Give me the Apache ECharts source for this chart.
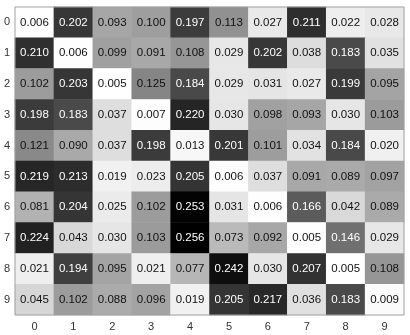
<!DOCTYPE html>
<html><head><meta charset="utf-8">
<script src="https://cdn.jsdelivr.net/npm/echarts@6/dist/echarts.min.js"></script>
<style>html,body{margin:0;padding:0;background:#fff}#c{width:410px;height:335px}</style>
</head><body><div id="c"></div>
<script>
const xLabels = ['0','1','2','3','4','5','6','7','8','9'];
const yLabels = ['0','1','2','3','4','5','6','7','8','9'];
const row0 = [0.006,0.202,0.093,0.100,0.197,0.113,0.027,0.211,0.022,0.028];
const row1 = [0.210,0.006,0.099,0.091,0.108,0.029,0.202,0.038,0.183,0.035];
const row2 = [0.102,0.203,0.005,0.125,0.184,0.029,0.031,0.027,0.199,0.095];
const row3 = [0.198,0.183,0.037,0.007,0.220,0.030,0.098,0.093,0.030,0.103];
const row4 = [0.121,0.090,0.037,0.198,0.013,0.201,0.101,0.034,0.184,0.020];
const row5 = [0.219,0.213,0.019,0.023,0.205,0.006,0.037,0.091,0.089,0.097];
const row6 = [0.081,0.204,0.025,0.102,0.253,0.031,0.006,0.166,0.042,0.089];
const row7 = [0.224,0.043,0.030,0.103,0.256,0.073,0.092,0.005,0.146,0.029];
const row8 = [0.021,0.194,0.095,0.021,0.077,0.242,0.030,0.207,0.005,0.108];
const row9 = [0.045,0.102,0.088,0.096,0.019,0.205,0.217,0.036,0.183,0.009];
const rows = [row0,row1,row2,row3,row4,row5,row6,row7,row8,row9];

const data = [];
rows.forEach((r, yi) => r.forEach((v, xi) => {
  data.push({value: [xi, yi, v], label: {color: v > 0.135 ? '#ffffff' : '#111111', textBorderWidth: 0, textBorderColor: 'transparent'}});
}));
const allVals = rows.flat();
const chart = echarts.init(document.getElementById('c'), null, {renderer: 'canvas'});
chart.setOption({
  animation: false,
  textStyle: {fontFamily: 'Liberation Sans, Arial, sans-serif'},
  grid: {left: 15, top: 7, width: 389, height: 308, show: true, borderColor: '#a0a0a0', borderWidth: 1, backgroundColor: 'transparent', z: 10},
  xAxis: {type: 'category', data: xLabels, axisLine: {show: false}, axisTick: {show: false}, splitLine: {show: false},
    axisLabel: {color: '#333', fontSize: 11, margin: 6}},
  yAxis: {type: 'category', data: yLabels, inverse: true, axisLine: {show: false}, axisTick: {show: false}, splitLine: {show: false},
    axisLabel: {color: '#333', fontSize: 11, margin: 5}},
  visualMap: {show: false, min: Math.min(...allVals), max: Math.max(...allVals), dimension: 2, inRange: {color: ['#ffffff', '#000000']}},
  series: [{type: 'heatmap', data: data,
    label: {show: true, fontSize: 11.5, textBorderWidth: 0, textBorderColor: 'transparent', formatter: p => p.value[2].toFixed(3)},
    itemStyle: {borderWidth: 0}}]
});
</script></body></html>
